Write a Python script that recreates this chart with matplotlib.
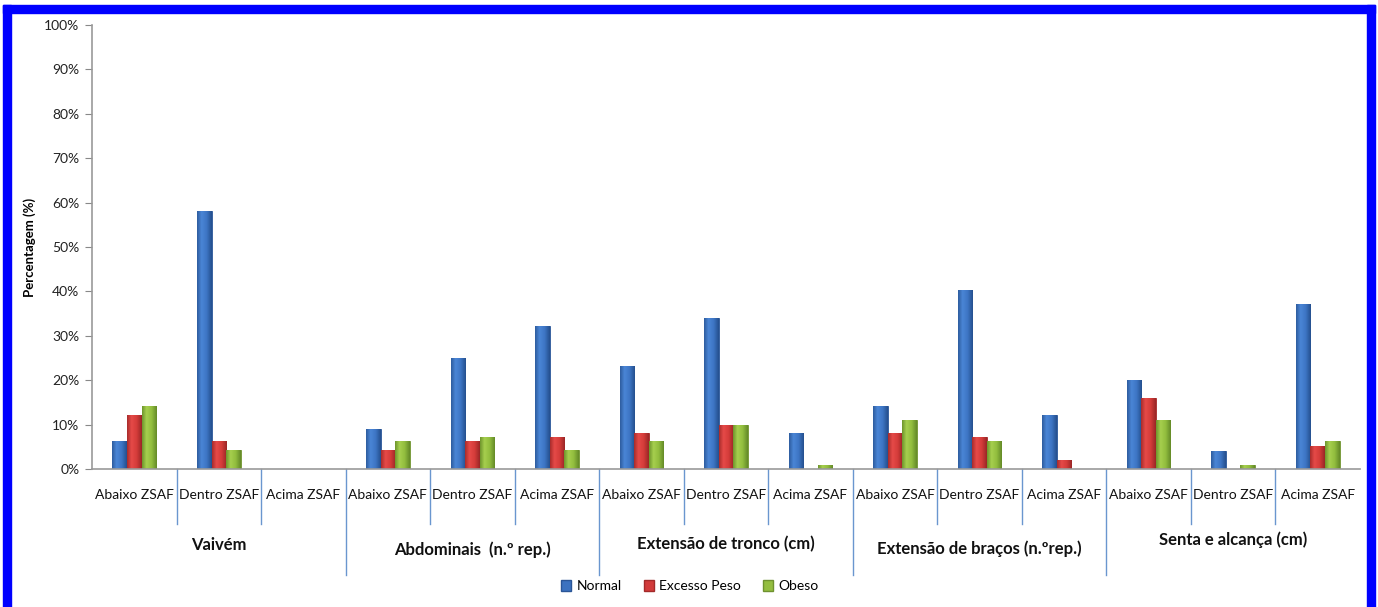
import matplotlib
matplotlib.use("Agg")
import matplotlib.pyplot as plt
import matplotlib.transforms as mtransforms
from matplotlib.patches import Rectangle, Patch
from matplotlib.colors import LinearSegmentedColormap
import numpy as np

categories = ["Abaixo ZSAF", "Dentro ZSAF", "Acima ZSAF"] * 5
groups = ["Vaivém", "Abdominais  (n.º rep.)", "Extensão de tronco (cm)",
          "Extensão de braços (n.ºrep.)", "Senta e alcança (cm)"]
series_names = ["Normal", "Excesso Peso", "Obeso"]
normal = [6.3, 58.0, 0, 9.0, 25.0, 32.2, 23.2, 34.0, 8.0, 14.2, 40.3, 12.2, 20.0, 4.1, 37.2]
excesso = [12.2, 6.3, 0, 4.3, 6.3, 7.2, 8.0, 10.0, 0, 8.0, 7.2, 2.0, 16.0, 0, 5.2]
obeso = [14.2, 4.3, 0, 6.3, 7.2, 4.3, 6.3, 10.0, 1.0, 11.0, 6.3, 0, 11.0, 1.0, 6.3]
yticks = [0, 10, 20, 30, 40, 50, 60, 70, 80, 90, 100]

colors = ["#3C72C0", "#D23B3B", "#94BE40"]
edges = ["#2A5597", "#A32A2A", "#6F9230"]
grad_stops = [["#2E5C9E", "#4A86D6", "#3D75C4", "#25508E"],
              ["#A82C2C", "#E64A48", "#D43C3A", "#9A2626"],
              ["#6E952C", "#A6CF4E", "#92BD3E", "#648A28"]]

W, H = 1378, 607
fig = plt.figure(figsize=(W / 100, H / 100), dpi=100)
fig.patch.set_facecolor("white")
font = "Lato"

x0, x1 = 92, 1360
y0, y1 = 469, 25
ax = fig.add_axes([x0 / W, 1 - y0 / H, (x1 - x0) / W, (y0 - y1) / H])

x = np.arange(len(categories))
bw = 0.172
grad = np.linspace(0, 1, 64).reshape(1, -1)
for k, vals in enumerate([normal, excesso, obeso]):
    h = np.array(vals, dtype=float)
    bars = ax.bar(x + (k - 1) * bw, h, width=bw, color=colors[k],
                  edgecolor=[edges[k] if v > 0 else "none" for v in h], linewidth=0.6,
                  label=series_names[k], zorder=3)
    cmap = LinearSegmentedColormap.from_list(f"g{k}", list(zip([0, 0.3, 0.65, 1.0], grad_stops[k])))
    for b in bars:
        if b.get_height() <= 0:
            continue
        bx, by = b.get_x(), b.get_y()
        im = ax.imshow(grad, extent=[bx, bx + b.get_width(), by, by + b.get_height()],
                       aspect="auto", cmap=cmap, zorder=3.5, interpolation="bilinear")
        im.set_clip_path(b)

ax.set_xlim(-0.5, len(categories) - 0.5)
ax.set_ylim(0, 100)
ax.set_aspect("auto")
ax.set_yticks(yticks)
ax.set_yticklabels([f"{t}%" for t in yticks], fontsize=10, family=font, color="#222222")
ax.tick_params(axis="y", length=5, color="#888888", pad=4)
ax.set_xticks([])
for s in ["top", "right"]:
    ax.spines[s].set_visible(False)
for s in ["left", "bottom"]:
    ax.spines[s].set_color("#999999")
    ax.spines[s].set_linewidth(1.2)
    ax.spines[s].set_zorder(5)

trans = mtransforms.blended_transform_factory(ax.transData, ax.transAxes)
ppx = 1.0 / (y0 - y1)
for i, c in enumerate(categories):
    ax.text(i, -(495 - y0) * ppx, c, transform=trans, ha="center", va="center",
            fontsize=10, family=font, color="#111111")
for b in range(1, len(categories)):
    xb = b - 0.5
    ylow = 575 if b % 3 == 0 else 524
    ax.plot([xb, xb], [0, -(ylow - y0) * ppx], transform=trans, color="#6A96CF",
            lw=1.0, clip_on=False)
gy = [545, 550, 544, 549, 540]
for g, name in enumerate(groups):
    ax.text(3 * g + 1, -(gy[g] - y0) * ppx, name, transform=trans, ha="center",
            va="center", fontsize=12, fontweight="bold", family=font, color="#111111")

fig.text(30 / W, 1 - 247 / H, "Percentagem (%)", rotation=90, ha="center", va="center",
         fontsize=9.5, fontweight="bold", family=font)

handles = [Patch(facecolor=colors[k], edgecolor=edges[k]) for k in range(3)]
fig.legend(handles, series_names, loc="center", bbox_to_anchor=(690 / W, 1 - 586 / H),
           ncol=3, frameon=False, prop={"family": font, "size": 10},
           handlelength=0.7, handleheight=0.9, handletextpad=0.4, columnspacing=1.6)

blue = "#0000FF"
fig.patches.append(Rectangle((3 / W, 1 - 12.5 / H), (1375 - 3) / W, 7.5 / H,
                             transform=fig.transFigure, color=blue, zorder=10))
fig.patches.append(Rectangle((3 / W, 0), 8 / W, 1 - 5 / H,
                             transform=fig.transFigure, color=blue, zorder=10))
fig.patches.append(Rectangle((1367 / W, 0), 8 / W, 1 - 5 / H,
                             transform=fig.transFigure, color=blue, zorder=10))

fig.savefig("out.png", dpi=100, facecolor="white")
